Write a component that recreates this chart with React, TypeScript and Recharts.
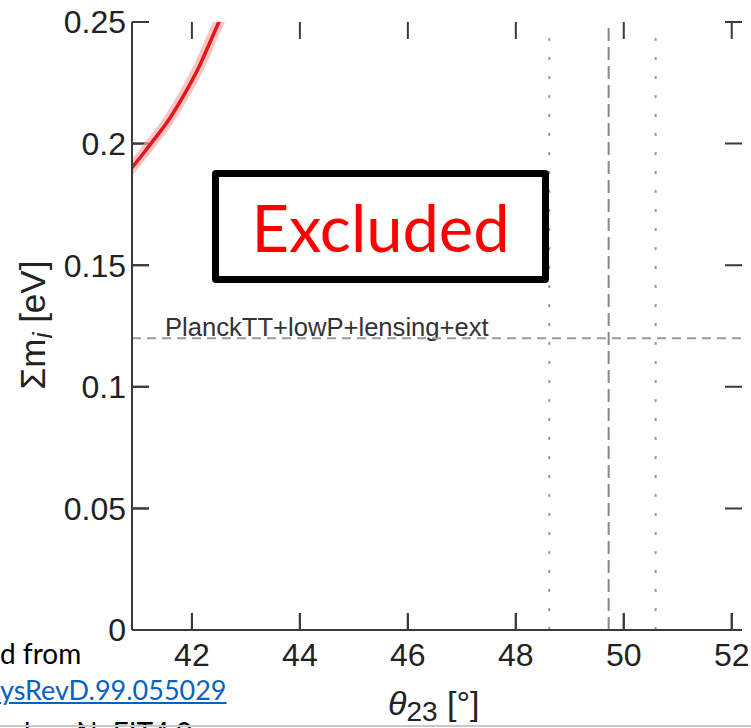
import React from 'react';
import { ComposedChart, Line, XAxis, YAxis, ReferenceLine } from 'recharts';

// red exclusion curve (sum of neutrino masses vs theta23)
const thetaValues = [40.8, 40.92, 41.24, 41.5, 41.8, 42.13, 42.41, 42.5, 42.6];
const massSumValues = [0.188, 0.191, 0.2, 0.2075, 0.218, 0.2315, 0.2455, 0.25, 0.255];

const xTicks = [42, 44, 46, 48, 50, 52];
const yTicks = [0, 0.05, 0.1, 0.15, 0.2, 0.25];

// NuFIT best fit (dashed) and 1-sigma range (dotted)
const thetaBestFit = 49.72;
const thetaRange = [48.62, 50.59];
const planckLimit = 0.12;
const planckLabel = 'PlanckTT+lowP+lensing+ext';

const sourceLines = ['d from', 'ysRevD.99.055029', 'ed on NuFIT4.0'];

const data = thetaValues.map((t, i) => ({ theta: t, sum: massSumValues[i] }));

const xDomain = [40.89, 52.19];
const yDomain = [0, 0.25];
// inward tick length (~17px) in axis units
const xTickLen = 0.315;
const yTickLen = 0.007;

// bottom and left tick marks as tiny two-point series
const bottomTickSeries = xTicks.map((t) => [
  { theta: t, sum: yDomain[0] },
  { theta: t, sum: yDomain[0] + yTickLen },
]);
const leftTickSeries = yTicks.map((v) => [
  { theta: xDomain[0], sum: v },
  { theta: xDomain[0] + xTickLen, sum: v },
]);
const planckSeries = [
  { theta: xDomain[0], sum: planckLimit },
  { theta: xDomain[1], sum: planckLimit },
];

const axisColor = '#3a3a3a';
const helv = 'Liberation Sans, Arial, sans-serif';
const calibri = 'Lato, "Open Sans", sans-serif';
const tickFont = { fill: '#222', fontSize: 32, fontFamily: helv };
const TICK = 17;

// top / right ticks: take the full reference line and keep only its ends
const VerticalTickPair = (p: any) => {
  const top = Math.min(p.y1, p.y2);
  const bottom = Math.max(p.y1, p.y2);
  return (
    <path
      d={`M${p.x1},${top}v${TICK}M${p.x1},${bottom}v${-TICK}`}
      stroke={axisColor}
      strokeWidth={2}
      fill="none"
    />
  );
};

const HorizontalTickPair = (p: any) => {
  const left = Math.min(p.x1, p.x2);
  const right = Math.max(p.x1, p.x2);
  return (
    <path
      d={`M${left},${p.y1}h${TICK}M${right},${p.y1}h${-TICK}`}
      stroke={axisColor}
      strokeWidth={2}
      fill="none"
    />
  );
};

const PlanckLabel = (props: any) => {
  const { viewBox } = props;
  return (
    <text x={viewBox.x + 33} y={viewBox.y - 2} fill="#333" fontSize={25.6} fontFamily={helv}>
      {planckLabel}
    </text>
  );
};

const App: React.FC = () => {
  return (
    <div
      style={{
        position: 'absolute',
        left: 0,
        top: 0,
        width: 751,
        height: 728,
        overflow: 'hidden',
        background: '#fff',
      }}
    >
      <ComposedChart width={751} height={728} data={data} margin={{ top: 22, right: 9, bottom: 0, left: 0 }}>
        <XAxis
          dataKey="theta"
          type="number"
          domain={xDomain}
          allowDataOverflow
          ticks={xTicks}
          height={98}
          tickSize={0}
          tickMargin={13}
          tickLine={false}
          stroke={axisColor}
          strokeWidth={2}
          tick={tickFont}
        />
        <XAxis
          xAxisId="top"
          dataKey="theta"
          type="number"
          orientation="top"
          domain={xDomain}
          ticks={xTicks}
          height={0}
          tick={false}
          tickLine={false}
          stroke={axisColor}
          strokeWidth={2}
        />
        <YAxis
          type="number"
          domain={yDomain}
          allowDataOverflow
          ticks={yTicks}
          width={132}
          tickSize={0}
          tickMargin={6}
          tickLine={false}
          tickFormatter={(v: number) => String(v)}
          stroke={axisColor}
          strokeWidth={2}
          tick={tickFont}
        />
        <YAxis
          yAxisId="right"
          orientation="right"
          type="number"
          domain={yDomain}
          ticks={yTicks}
          width={0}
          tick={false}
          tickLine={false}
          stroke={axisColor}
          strokeWidth={2}
        />

        {xTicks.map((t) => (
          <ReferenceLine key={`xt-${t}`} x={t} ifOverflow="visible" shape={VerticalTickPair} />
        ))}
        {yTicks.map((v) => (
          <ReferenceLine key={`yt-${v}`} y={v} ifOverflow="visible" shape={HorizontalTickPair} />
        ))}

        {/* Planck limit: label via reference line, dashes via a flat series */}
        <ReferenceLine y={planckLimit} stroke="none" label={<PlanckLabel />} />
        <Line
          data={planckSeries}
          dataKey="sum"
          stroke="#999"
          strokeWidth={2}
          strokeDasharray="9 6"
          dot={false}
          activeDot={false}
          legendType="none"
          isAnimationActive={false}
        />

        <ReferenceLine x={thetaRange[0]} stroke="#999" strokeWidth={2} strokeDasharray="3 16" />
        <ReferenceLine x={thetaBestFit} stroke="#888" strokeWidth={2} strokeDasharray="13 6" />
        <ReferenceLine x={thetaRange[1]} stroke="#999" strokeWidth={2} strokeDasharray="3 16" />

        {bottomTickSeries.map((pts, i) => (
          <Line
            key={`bt-${i}`}
            data={pts}
            dataKey="sum"
            stroke={axisColor}
            strokeWidth={2}
            dot={false}
            activeDot={false}
            legendType="none"
            isAnimationActive={false}
          />
        ))}
        {leftTickSeries.map((pts, i) => (
          <Line
            key={`lt-${i}`}
            data={pts}
            dataKey="sum"
            stroke={axisColor}
            strokeWidth={2}
            dot={false}
            activeDot={false}
            legendType="none"
            isAnimationActive={false}
          />
        ))}

        <Line
          dataKey="sum"
          type="monotone"
          stroke="#f6a8a8"
          strokeWidth={11}
          strokeOpacity={0.65}
          dot={false}
          isAnimationActive={false}
        />
        <Line
          dataKey="sum"
          type="monotone"
          stroke="#e8141b"
          strokeWidth={3.5}
          dot={false}
          isAnimationActive={false}
        />
      </ComposedChart>

      {/* y axis title */}
      <div
        style={{
          position: 'absolute',
          left: 32,
          top: 325,
          transform: 'translate(-50%, -50%) rotate(-90deg)',
          fontFamily: helv,
          fontSize: 35,
          color: '#222',
          whiteSpace: 'nowrap',
          lineHeight: 1,
        }}
      >
        Σm<i style={{ fontSize: 27, position: 'relative', top: 7 }}>i</i> [eV]
      </div>

      {/* x axis title */}
      <div
        style={{
          position: 'absolute',
          left: 388,
          top: 686,
          fontFamily: helv,
          fontSize: 34,
          color: '#222',
          whiteSpace: 'nowrap',
          lineHeight: 1,
        }}
      >
        <i>θ</i>
        <span style={{ fontSize: 28, position: 'relative', top: 6 }}>23</span> [°]
      </div>

      {/* excluded box */}
      <div
        style={{
          position: 'absolute',
          left: 212,
          top: 170,
          width: 337,
          height: 113,
          boxSizing: 'border-box',
          border: '7px solid #000',
          borderRadius: 4,
          background: '#fff',
          display: 'flex',
          alignItems: 'center',
          justifyContent: 'center',
          color: '#ff0000',
          fontFamily: calibri,
          fontSize: 65,
        }}
      >
        Excluded
      </div>

      {/* source note, cut off by the slide edge */}
      <div style={{ position: 'absolute', left: 0, top: 636, fontFamily: calibri, fontSize: 28, color: '#000', whiteSpace: 'nowrap' }}>
        {sourceLines[0]}
      </div>
      <div style={{ position: 'absolute', left: 0, top: 673, fontFamily: calibri, fontSize: 27, color: '#0563c1', textDecoration: 'underline', whiteSpace: 'nowrap' }}>
        {sourceLines[1]}
      </div>
      <div style={{ position: 'absolute', left: 0, top: 715, fontFamily: calibri, fontSize: 28, color: '#000', whiteSpace: 'nowrap' }}>
        {sourceLines[2]}
      </div>
      <div style={{ position: 'absolute', left: 0, top: 725, width: 751, height: 2, background: '#c8c8c8' }} />
    </div>
  );
};

export default App;
